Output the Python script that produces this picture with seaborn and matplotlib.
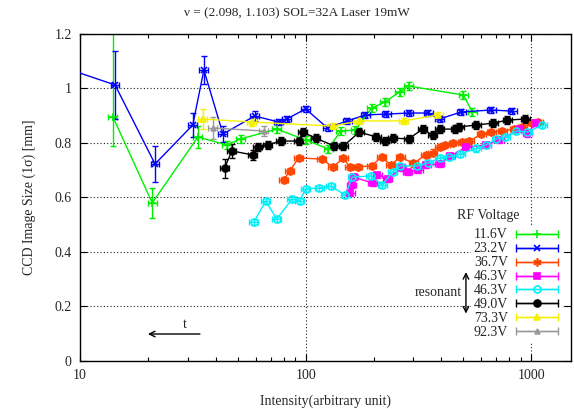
import numpy as np
import matplotlib
matplotlib.use("Agg")
import matplotlib.pyplot as plt
import seaborn as sns
from matplotlib.lines import Line2D
from matplotlib.collections import LineCollection
from matplotlib.container import ErrorbarContainer
from matplotlib.legend_handler import HandlerErrorbar
from matplotlib.ticker import LogLocator, FixedLocator, FormatStrFormatter, NullFormatter

# --- данные ---
labels = ["11.6V", "23.2V", "36.7V", "46.3V", "46.3V", "49.0V", "73.3V", "92.3V"]

green_x = [14.0, 20.9, 33.3, 44.7, 51.5, 74.5, 100, 126, 143, 166, 196, 224, 261, 286, 500, 548]
green_y = [0.895, 0.58, 0.822, 0.793, 0.815, 0.851, 0.811, 0.778, 0.844, 0.848, 0.928, 0.95, 0.987, 1.009, 0.976, 0.914]
green_err_lo = [0.105, 0.055, 0.04] + [0.015] * 13
green_err_hi = [0.35, 0.055, 0.04] + [0.015] * 13

blue_x = [7, 14.3, 21.5, 31.6, 35.4, 43, 59.4, 76, 82.4, 100, 125, 153, 184, 228, 286, 350, 392, 490, 665, 824]
blue_y = [1.10, 1.013, 0.723, 0.866, 1.068, 0.833, 0.899, 0.877, 0.888, 0.925, 0.855, 0.881, 0.903, 0.906,
          0.91, 0.91, 0.888, 0.914, 0.921, 0.917]
blue_err = [0.1, 0.125, 0.065, 0.045, 0.05, 0.03, 0.02] + [0.012] * 13

orange_x = [80, 85, 93, 118, 132, 147, 157, 170, 196, 217, 238, 263, 300, 340, 365, 392, 416, 452, 495, 532,
            601, 665, 744, 841, 913, 1010, 1074]
orange_y = [0.664, 0.697, 0.745, 0.741, 0.712, 0.745, 0.712, 0.712, 0.716, 0.749, 0.719, 0.749, 0.725, 0.756,
            0.765, 0.785, 0.793, 0.800, 0.804, 0.807, 0.833, 0.840, 0.844, 0.851, 0.859, 0.873, 0.877]

magenta_x = [158, 160, 163, 198, 208, 231, 266, 283, 316, 343, 392, 438, 515, 632, 721, 893, 960, 1051]
magenta_y = [0.618, 0.645, 0.675, 0.653, 0.683, 0.668, 0.708, 0.694, 0.701, 0.719, 0.723, 0.752, 0.785, 0.793,
             0.811, 0.851, 0.835, 0.873]

cyan_x = [59, 66.5, 74.5, 87, 94, 100, 115, 129, 150, 161, 194, 219, 243, 263, 313, 350, 392, 433, 485, 570,
          632, 700, 767, 859, 960, 1119]
cyan_y = [0.510, 0.587, 0.521, 0.594, 0.587, 0.631, 0.635, 0.642, 0.609, 0.675, 0.679, 0.646, 0.694, 0.716,
          0.716, 0.727, 0.745, 0.749, 0.760, 0.780, 0.793, 0.815, 0.822, 0.844, 0.840, 0.866]

black_x = [43.7, 47.1, 58.2, 61.4, 67.9, 77.4, 93.1, 97.1, 110.7, 134, 147, 173, 206, 224, 243, 286, 330, 365,
           392, 461, 480, 571, 680, 784, 940]
black_y = [0.708, 0.771, 0.756, 0.785, 0.793, 0.807, 0.807, 0.840, 0.818, 0.789, 0.789, 0.840, 0.822, 0.807,
           0.818, 0.815, 0.851, 0.829, 0.851, 0.851, 0.859, 0.866, 0.873, 0.884, 0.888]
black_err = [0.035, 0.025, 0.02] + [0.014] * 22

yellow_x = [35.0, 57.7, 131.6, 172, 272, 387]
yellow_y = [0.888, 0.877, 0.862, 0.881, 0.881, 0.903]
yellow_err = [0.035, 0.015, 0.012, 0.012, 0.012, 0.012]

gray_x = [38.7, 65.2]
gray_y = [0.855, 0.844]
gray_err = [0.04, 0.02]

# стиль
sns.set_style("ticks")
plt.rcParams['font.family'] = ['Liberation Serif', 'DejaVu Serif']
FS = 10

series = [
    dict(x=green_x, y=green_y, yerr=[green_err_lo, green_err_hi], c="#00f000", m="+", ms=6, mfc="#00f000"),
    dict(x=blue_x, y=blue_y, yerr=blue_err, c="#0000ff", m="x", ms=5, mfc="#0000ff"),
    dict(x=orange_x, y=orange_y, yerr=0.012, c="#ff4500", m=(6, 2, 0), ms=6, mfc="#ff4500"),
    dict(x=magenta_x, y=magenta_y, yerr=0.012, c="#ff00ff", m="s", ms=5, mfc="#ff00ff"),
    dict(x=cyan_x, y=cyan_y, yerr=0.012, c="#00eef8", m="o", ms=5, mfc="none"),
    dict(x=black_x, y=black_y, yerr=black_err, c="black", m="o", ms=5, mfc="black"),
    dict(x=yellow_x, y=yellow_y, yerr=yellow_err, c="#f5f000", m="^", ms=5, mfc="#f5f000"),
    dict(x=gray_x, y=gray_y, yerr=gray_err, c="#999999", m="^", ms=3.5, mfc="#999999"),
]

fig = plt.figure(figsize=(5.74, 4.09), dpi=100)
ax = fig.add_axes([0.1394, 0.1174, 0.8554, 0.7995])
ax.set_xscale('log')

handles = []
for s, lab in zip(series, labels):
    xs = np.array(s["x"], dtype=float)
    ys = np.array(s["y"], dtype=float)
    sns.lineplot(x=xs, y=ys, sort=False, estimator=None, ax=ax, color=s["c"], lw=1,
                 marker=s["m"], markersize=s["ms"], markerfacecolor=s["mfc"],
                 markeredgecolor=s["c"], markeredgewidth=1.2, legend=False, zorder=3)
    ax.errorbar(xs, ys, xerr=xs * 0.045, yerr=s["yerr"], fmt='none', ecolor=s["c"],
                elinewidth=1, capsize=2.5, capthick=1, zorder=2)
    # заглушка для легенды (как в gnuplot: горизонтальная планка с засечками)
    ln = Line2D([], [], color=s["c"], lw=1, marker=s["m"], markersize=s["ms"],
                markerfacecolor=s["mfc"], markeredgecolor=s["c"], markeredgewidth=1.2)
    cap = Line2D([], [], color=s["c"], markersize=6, markeredgewidth=1)
    bars = LineCollection([], colors=s["c"], linewidths=1)
    handles.append(ErrorbarContainer((ln, (cap, cap), (bars,)), has_xerr=True, has_yerr=False, label=lab))

ax.set_xlim(10, 1500)
ax.set_ylim(0, 1.2)

ax.xaxis.set_major_locator(FixedLocator([10, 100, 1000]))
ax.xaxis.set_major_formatter(FormatStrFormatter('%g'))
ax.xaxis.set_minor_locator(LogLocator(base=10, subs=np.arange(2, 10)))
ax.xaxis.set_minor_formatter(NullFormatter())
ax.yaxis.set_major_locator(FixedLocator([0, 0.2, 0.4, 0.6, 0.8, 1.0, 1.2]))
ax.yaxis.set_major_formatter(FormatStrFormatter('%g'))
ax.tick_params(which='both', direction='in', top=True, right=True, labelsize=FS, width=0.8, color='black')
ax.tick_params(which='major', length=5, pad=6)
ax.tick_params(which='minor', length=3)

ax.grid(True, which='major', color='#222222', linestyle=(0, (1, 2)), linewidth=0.8)
for sp in ax.spines.values():
    sp.set_linewidth(1)
    sp.set_color('black')

fig.text(0.517, 0.968, "ν = (2.098, 1.103) SOL=32A Laser 19mW", ha='center', va='center', fontsize=9.5)
ax.set_xlabel("Intensity(arbitrary unit)", fontsize=FS, labelpad=9)
ax.set_ylabel("CCD Image Size (1σ) [mm]", fontsize=FS, labelpad=13)

leg = ax.legend(handles=handles, labels=labels, loc='upper right',
                bbox_to_anchor=(0.993, 0.435), markerfirst=False, frameon=True, fancybox=False,
                framealpha=1, edgecolor='white', facecolor='white', fontsize=FS,
                handlelength=3.0, handletextpad=0.6, labelspacing=0.07, borderpad=0.2,
                handler_map={ErrorbarContainer: HandlerErrorbar(xerr_size=1.5, numpoints=1)})
leg.set_zorder(5)
ax.text(0.831, 0.446, "RF Voltage", transform=ax.transAxes, ha='center', va='center', fontsize=FS,
        zorder=6, bbox=dict(facecolor='white', edgecolor='none', pad=1.5))

# "resonant" с двойной стрелкой
ax.annotate("", xy=(0.786, 0.145), xytext=(0.786, 0.272), xycoords='axes fraction',
            arrowprops=dict(arrowstyle='<->', color='black', lw=1, shrinkA=0, shrinkB=0), zorder=6)
ax.text(0.778, 0.208, "resonant", transform=ax.transAxes, ha='right', va='center', fontsize=FS, zorder=6)

# стрелка времени
ax.annotate("", xy=(20, 0.099), xytext=(34, 0.099), xycoords='data',
            arrowprops=dict(arrowstyle='->', color='black', lw=1, shrinkA=0, shrinkB=0))
ax.text(29, 0.135, "t", ha='center', va='center', fontsize=FS)

fig.savefig("out.png", dpi=100)
